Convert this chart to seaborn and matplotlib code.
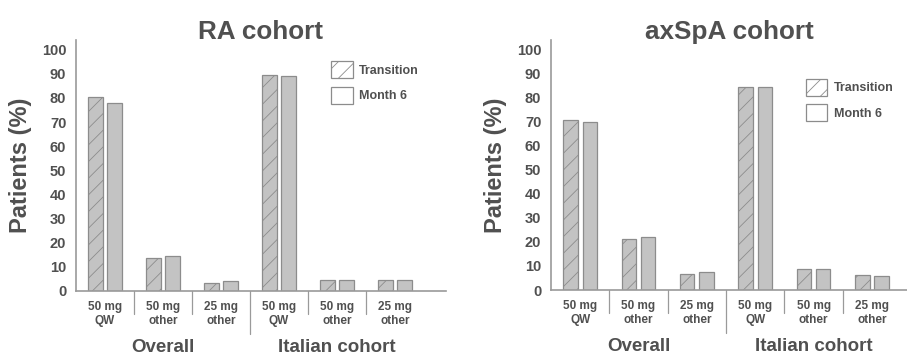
import pandas as pd
import matplotlib.pyplot as plt
import matplotlib.transforms as mtransforms
from matplotlib.patches import Patch
import seaborn as sns

# data
doses = ['50 mg\nQW', '50 mg\nother', '25 mg\nother']
groups = ['Overall', 'Italian cohort']
timepoints = ['Transition', 'Month 6']

ra_transition = [80.5, 13.5, 3.5, 89.5, 4.5, 4.5]
ra_month6 = [78.0, 14.5, 4.0, 89.0, 4.5, 4.5]
axspa_transition = [70.8, 21.2, 6.6, 84.5, 8.7, 6.3]
axspa_month6 = [69.8, 22.0, 7.4, 84.5, 8.8, 5.9]

text_col = '#505050'
line_col = '#9a9a9a'
bar_col = '#c3c3c3'
edge_col = '#8c8c8c'

sns.set_style('white')
plt.rcParams['font.family'] = ['Liberation Sans', 'DejaVu Sans']
plt.rcParams['font.weight'] = 'bold'
plt.rcParams['hatch.linewidth'] = 0.6


def make_df(trans, m6):
    rows = []
    keys = [g + ' ' + d for g in groups for d in doses]
    for i, k in enumerate(keys):
        rows.append({'cat': k, 'time': 'Transition', 'value': trans[i]})
        rows.append({'cat': k, 'time': 'Month 6', 'value': m6[i]})
    return pd.DataFrame(rows), keys


def draw(ax, trans, m6, title, xmax, leg_x, leg_y):
    df, keys = make_df(trans, m6)
    sns.barplot(data=df, x='cat', y='value', hue='time', order=keys,
                hue_order=timepoints, palette=[bar_col, bar_col],
                width=0.66, gap=0.25, edgecolor=edge_col, linewidth=0.9,
                legend=False, ax=ax)
    # hatch the Transition bars
    n = len(keys)
    for p in ax.patches[:n]:
        p.set_hatch('//')
    ax.set_ylim(0, 104)
    ax.set_xlim(-0.5, xmax)
    ax.set_yticks(range(0, 101, 10))
    ax.set_yticklabels([str(v) for v in range(0, 101, 10)], fontsize=10.5,
                       fontweight='bold', color=text_col)
    ax.set_xticks(range(n))
    ax.set_xticklabels(doses * 2, fontsize=8.5, fontweight='bold',
                       color=text_col, linespacing=1.25)
    ax.tick_params(axis='y', length=0, pad=7)
    ax.tick_params(axis='x', length=0, pad=7)
    ax.set_xlabel('')
    ax.set_ylabel('Patients (%)', fontsize=17, fontweight='bold',
                  color=text_col, labelpad=7)
    ax.set_title(title, fontsize=18.8, fontweight='bold', color=text_col, pad=1)
    sns.despine(ax=ax)
    for s in ['left', 'bottom']:
        ax.spines[s].set_color(line_col)
        ax.spines[s].set_linewidth(1.2)

    # separators under the axis
    tr = mtransforms.blended_transform_factory(ax.transData, ax.transAxes)
    for k in range(1, n):
        low = -0.17 if k == 3 else -0.09
        ax.plot([k - 0.5, k - 0.5], [0, low], color=line_col, lw=0.9,
                transform=tr, clip_on=False)
    for j, g in enumerate(groups):
        ax.text(j * 3 + 1, -0.225, g, transform=tr, ha='center', va='center',
                fontsize=13.5, fontweight='bold', color=text_col)

    handles = [Patch(facecolor='white', edgecolor=edge_col, hatch='//', lw=0.9),
               Patch(facecolor='white', edgecolor=edge_col, lw=0.9)]
    leg = ax.legend(handles, timepoints, loc='upper left',
                    bbox_to_anchor=(leg_x, leg_y), frameon=False,
                    handlelength=1.7, handleheight=1.7, labelspacing=0.7,
                    handletextpad=0.5, prop={'size': 9, 'weight': 'bold'})
    for t in leg.get_texts():
        t.set_color(text_col)


fig = plt.figure(figsize=(9.07, 3.56), dpi=100)
ax1 = fig.add_axes([76 / 907, 1 - 291 / 356, (446 - 76) / 907, 251 / 356])
ax2 = fig.add_axes([551 / 907, 1 - 290 / 356, (907 - 551) / 907, 250 / 356])

draw(ax1, ra_transition, ra_month6, 'RA cohort', 5.88, 0.66, 0.96)
draw(ax2, axspa_transition, axspa_month6, 'axSpA cohort', 5.6, 0.685, 0.89)

fig.savefig('out.png', dpi=100)
